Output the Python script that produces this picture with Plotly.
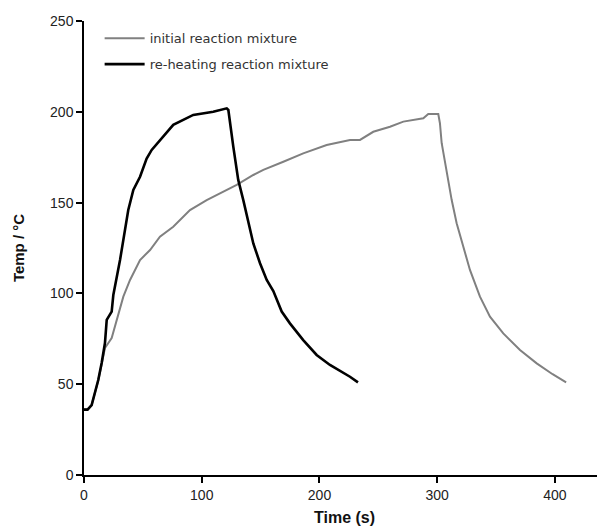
import plotly.graph_objects as go

# Initial reaction mixture (grey)
initial_t = [0, 3, 6.5, 9.3, 12.1, 15, 17.8, 23.5, 26.3, 30.6, 33.4, 39.1, 47.6, 56.1, 64.5,
             75.8, 90, 104.2, 118.3, 129.7, 143.8, 152.3, 169.3, 186.2, 206.1, 225.9, 234.4,
             245.7, 259.9, 271.2, 288.2, 292.4, 300.9, 302.3, 303.8, 308, 312.3, 316.5, 322.1,
             327.8, 336.3, 344.8, 356.1, 370.3, 384.5, 398, 409.5]
initial_T = [36, 36, 38.5, 45, 52, 61, 69.9, 75.4, 81.7, 90.9, 98.2, 107.4, 118.4, 123.9, 131.2,
             136.7, 145.9, 151.4, 156, 159.7, 165.2, 168, 172.5, 177.1, 181.7, 184.5, 184.5,
             189, 191.8, 194.6, 196.4, 198.8, 198.8, 193.7, 182.7, 166.1, 151.4, 138.6, 125.7,
             112.9, 98.2, 87.2, 78, 68.8, 61.5, 55.5, 51]

# Re-heating reaction mixture (black)
reheat_t = [0, 3, 6.5, 9.3, 12.1, 15, 17.8, 19.3, 23.5, 24.9, 30.6, 37.6, 41.9, 47.6, 53.2, 57.5,
            64.5, 75.8, 92.8, 109.8, 121.2, 122.6, 126.8, 131, 135.3, 139.5, 143.8, 149.5,
            155.2, 160.8, 167.9, 174.9, 186.2, 197.6, 208.9, 225.9, 232.7]
reheat_T = [36, 36, 38.5, 45, 52.3, 61.7, 72.7, 85.4, 90, 99.1, 118.4, 145.9, 157, 164.2, 174.3, 179,
            184.5, 192.8, 198.3, 200, 201.9, 201, 180.8, 162.5, 151.4, 138.6, 127.5, 116.6,
            107.4, 101.3, 90, 83.5, 74.3, 66.1, 60.6, 54.1, 51]

x_ticks = [0, 100, 200, 300, 400]
y_ticks = [0, 50, 100, 150, 200, 250]

fig = go.Figure()
fig.add_trace(go.Scatter(x=initial_t, y=initial_T, mode="lines", name="initial reaction mixture",
                         line=dict(color="#808080", width=2), legendgroup="a"))
fig.add_trace(go.Scatter(x=reheat_t, y=reheat_T, mode="lines", name="re-heating reaction mixture",
                         line=dict(color="#000000", width=2.6), legendgroup="b"))

axis_common = dict(showgrid=False, zeroline=False, showline=True, linecolor="black", linewidth=1.5,
                   ticks="outside", ticklen=6, tickwidth=1.5, tickcolor="black",
                   tickfont=dict(family="Liberation Sans, Arial", size=14, color="#222"))

fig.update_layout(
    width=597, height=524,
    margin=dict(l=76, r=0, t=13, b=57),
    paper_bgcolor="white", plot_bgcolor="white",
    xaxis=dict(range=[0, 442.5], tickvals=x_ticks, **axis_common,
               title=dict(text="<b>Time (s)</b>", standoff=10,
                          font=dict(family="Liberation Sans, Arial", size=16, color="#111"))),
    yaxis=dict(range=[0, 250], tickvals=y_ticks, **axis_common,
               title=dict(text="<b>Temp / °C</b>", standoff=22,
                          font=dict(family="Liberation Sans, Arial", size=15, color="#111"))),
    legend=dict(x=0.03, y=0.995, xanchor="left", yanchor="top", traceorder="grouped",
                tracegroupgap=6, itemwidth=40, bgcolor="rgba(0,0,0,0)",
                font=dict(family="DejaVu Sans", size=13, color="#333")),
    showlegend=True,
)

fig.write_html("out.html")
